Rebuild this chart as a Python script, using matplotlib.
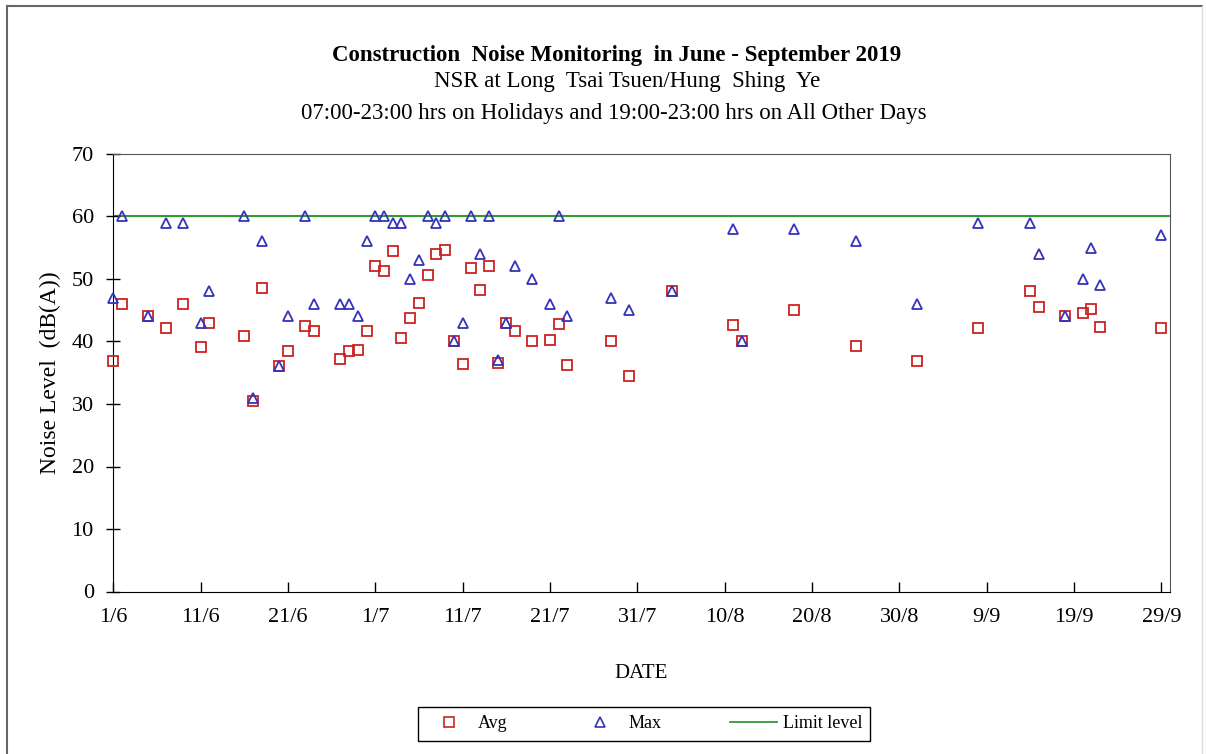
import numpy as np
import pandas as pd
import matplotlib
matplotlib.use('Agg')
from matplotlib import pyplot as plt
from matplotlib.lines import Line2D
from matplotlib.ticker import FuncFormatter

# measurement dates (d/m/2019)
dates = ['1/6', '2/6', '5/6', '7/6', '9/6', '11/6', '12/6', '16/6', '17/6', '18/6',
         '20/6', '21/6', '23/6', '24/6', '27/6', '28/6', '29/6', '30/6', '1/7', '2/7',
         '3/7', '4/7', '5/7', '6/7', '7/7', '8/7', '9/7', '10/7', '11/7', '12/7',
         '13/7', '14/7', '15/7', '16/7', '17/7', '19/7', '21/7', '22/7', '23/7', '28/7',
         '30/7', '4/8', '11/8', '12/8', '18/8', '25/8', '1/9', '8/9', '14/9', '15/9',
         '18/9', '20/9', '21/9', '22/9', '29/9']

avg = [36.8, 46.0, 44.0, 42.1, 46.0, 39.1, 42.9, 40.9, 30.4, 48.5,
       36.0, 38.4, 42.4, 41.7, 37.2, 38.4, 38.6, 41.7, 52.1, 51.3,
       54.5, 40.5, 43.8, 46.1, 50.6, 54.0, 54.7, 40.0, 36.4, 51.7,
       48.3, 52.1, 36.6, 43.0, 41.7, 40.1, 40.3, 42.8, 36.3, 40.1,
       34.5, 48.0, 42.6, 40.0, 45.0, 39.3, 36.9, 42.2, 48.0, 45.5,
       44.0, 44.5, 45.2, 42.3, 42.1]

mx = [47, 60, 44, 59, 59, 43, 48, 60, 31, 56,
      36, 44, 60, 46, 46, 46, 44, 56, 60, 60,
      59, 59, 50, 53, 60, 59, 60, 40, 43, 60,
      54, 60, 37, 43, 52, 50, 46, 60, 44, 47,
      45, 48, 58, 40, 58, 56, 46, 59, 59, 54,
      44, 50, 55, 49, 57]

limit_level = 60

start = pd.Timestamp('2019-06-01')
day = np.array([(pd.to_datetime(d + '/2019', dayfirst=True) - start).days for d in dates])

plt.rcParams['font.family'] = ['Liberation Serif', 'DejaVu Serif']

fig = plt.figure(figsize=(12.06, 7.54), dpi=100)
ax = fig.add_axes([113.3/1206, 1-591.5/754, (1170-113.3)/1206, (591.5-154)/754])

ax.axhline(limit_level, color='#339933', lw=1.5, zorder=1)
ax.plot(day, avg, ls='none', marker='s', ms=7.5, mfc='none', mec='#cc2222', mew=1.3,
        zorder=3, clip_on=False)
ax.plot(day, mx, ls='none', marker='^', ms=7.5, mfc='none', mec='#3333bb', mew=1.3,
        zorder=4, clip_on=False)

ax.set_xlim(0, 121)
ax.set_ylim(0, 70)
ax.set_xticks(np.arange(0, 121, 10))
ax.xaxis.set_major_formatter(FuncFormatter(
    lambda v, p: '%d/%d' % ((start + pd.Timedelta(days=int(v))).day, (start + pd.Timedelta(days=int(v))).month)))
ax.set_yticks(np.arange(0, 71, 10))
ax.tick_params(axis='x', direction='in', length=7, width=1, labelsize=16, pad=12)
ax.tick_params(axis='y', direction='inout', length=10, width=1, labelsize=16, pad=9)
for s in ['left', 'bottom']:
    ax.spines[s].set_color('black')
for s in ['top', 'right']:
    ax.spines[s].set_color('#555555')
ax.set_ylabel('Noise Level  (dB(A))', fontsize=17)
ax.yaxis.set_label_coords(-0.0495, 0.5)

fig.text(641/1206, 1-673/754, 'DATE', ha='center', va='center', fontsize=15)

fig.text(617/1206, 1-55/754, 'Construction  Noise Monitoring  in June - September 2019',
         ha='center', va='center', fontsize=16.5, fontweight='bold')
fig.text(627/1206, 1-81/754, 'NSR at Long  Tsai Tsuen/Hung  Shing  Ye',
         ha='center', va='center', fontsize=16.5)
fig.text(614/1206, 1-114/754, '07:00-23:00 hrs on Holidays and 19:00-23:00 hrs on All Other Days',
         ha='center', va='center', fontsize=16.5)

handles = [Line2D([], [], ls='none', marker='s', ms=7, mfc='none', mec='#cc2222', mew=1.2),
           Line2D([], [], ls='none', marker='^', ms=7, mfc='none', mec='#3333bb', mew=1.2),
           Line2D([], [], color='#339933', lw=1.3)]
leg = fig.legend(handles, ['Avg', 'Max', 'Limit level'], ncol=3, loc='center',
                 bbox_to_anchor=(644/1206, 1-724/754), fontsize=13, frameon=True,
                 fancybox=False, edgecolor='black', framealpha=1,
                 handlelength=2.6, handletextpad=0.3, columnspacing=3.8, borderpad=0.45)
leg.get_frame().set_linewidth(1)

# outer chart border
fig.add_artist(Line2D([7/1206, 7/1206], [0, 1-6/754], color='#666666', lw=1.5))
fig.add_artist(Line2D([7/1206, 1202/1206], [1-6/754, 1-6/754], color='#666666', lw=1.5))
fig.add_artist(Line2D([1202/1206, 1202/1206], [0, 1-6/754], color='#dddddd', lw=1))

fig.savefig('out.png', dpi=100)
